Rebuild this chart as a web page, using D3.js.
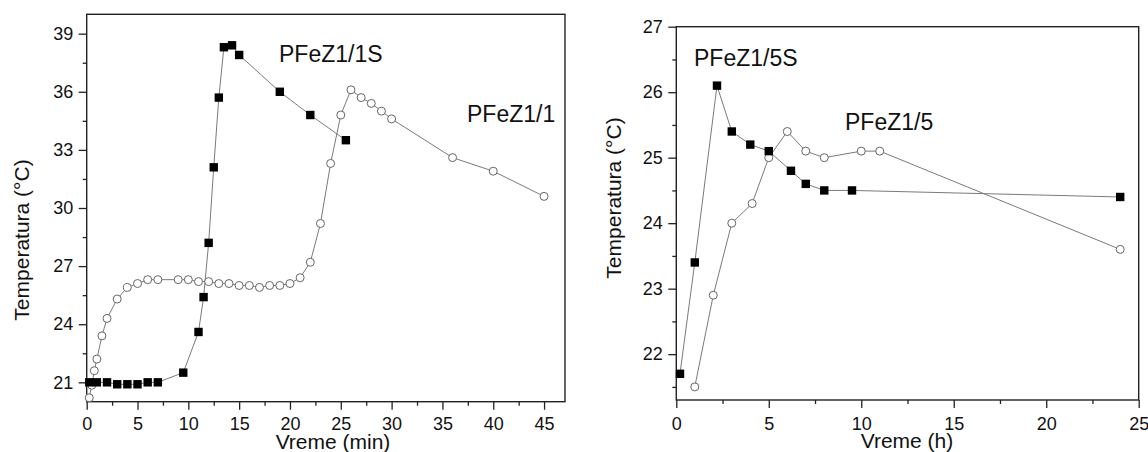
<!DOCTYPE html>
<html><head><meta charset="utf-8">
<script src="https://cdn.jsdelivr.net/npm/d3@7"></script>
<style>
body{margin:0;background:#fff;}
svg{display:block;font-family:"Liberation Sans",Arial,sans-serif;}
</style></head>
<body><svg id="c" width="1148" height="452"></svg>
<script>
// Left panel (minutes)
const leftSquareTime = [0.25,1,2,3,4,5,6,7,9.5,11,11.5,12,12.5,13,13.5,14.3,15,19,22,25.5];
const leftSquareTemp = [21.0,21.0,21.0,20.9,20.9,20.9,21.0,21.0,21.5,23.6,25.4,28.2,32.1,35.7,38.3,38.4,37.9,36.0,34.8,33.5];
const leftCircleTime = [0.25,0.5,0.75,1,1.5,2,3,4,5,6,7,9,10,11,12,13,14,15,16,17,18,19,20,21,22,23,24,25,26,27,28,29,30,36,40,45];
const leftCircleTemp = [20.2,20.85,21.6,22.2,23.4,24.3,25.3,25.9,26.1,26.3,26.3,26.3,26.3,26.2,26.2,26.1,26.1,26.0,26.0,25.9,26.0,26.0,26.1,26.4,27.2,29.2,32.3,34.8,36.1,35.7,35.4,35.0,34.6,32.6,31.9,30.6];
const leftXTicks = [0,5,10,15,20,25,30,35,40,45];
const leftYTicks = [21,24,27,30,33,36,39];

// Right panel (hours)
const rightSquareTime = [0.2,1,2.2,3,4,5,6.2,7,8,9.5,24];
const rightSquareTemp = [21.7,23.4,26.1,25.4,25.2,25.1,24.8,24.6,24.5,24.5,24.4];
const rightCircleTime = [1,2,3,4.1,5,6,7,8,10,11,24];
const rightCircleTemp = [21.5,22.9,24.0,24.3,25.0,25.4,25.1,25.0,25.1,25.1,23.6];
const rightXTicks = [0,5,10,15,20,25];
const rightYTicks = [22,23,24,25,26,27];

const svg = d3.select("#c");
const lineColor = "#7a7a7a";

function panel(opt){
  const x = d3.scaleLinear().domain(opt.xDom).range([opt.x0, opt.x1]);
  const y = d3.scaleLinear().domain(opt.yDom).range([opt.y1, opt.y0]);
  const g = svg.append("g");
  g.append("rect").attr("x",opt.x0).attr("y",opt.y0).attr("width",opt.x1-opt.x0).attr("height",opt.y1-opt.y0)
    .attr("fill","none").attr("stroke","#222").attr("stroke-width",1.4);
  const xa = g.append("g").attr("transform",`translate(0,${opt.y1})`)
    .call(d3.axisBottom(x).tickValues(opt.xTicks).tickSize(8).tickPadding(6).tickFormat(d3.format("d")));
  const xm = g.append("g").attr("transform",`translate(0,${opt.y1})`)
    .call(d3.axisBottom(x).tickValues(opt.xMinor).tickSize(4).tickFormat(""));
  const ya = g.append("g").attr("transform",`translate(${opt.x0},0)`)
    .call(d3.axisLeft(y).tickValues(opt.yTicks).tickSize(8).tickPadding(5.5).tickFormat(d3.format("d")));
  const ym = g.append("g").attr("transform",`translate(${opt.x0},0)`)
    .call(d3.axisLeft(y).tickValues(opt.yMinor).tickSize(4).tickFormat(""));
  [xa,xm,ya,ym].forEach(a=>{
    a.select(".domain").remove();
    a.selectAll(".tick line").attr("stroke","#222").attr("stroke-width",1.3);
    a.selectAll("text").attr("font-size",18).attr("fill","#111").attr("font-family","Liberation Sans, Arial, sans-serif");
  });
  xa.selectAll("text").attr("dy",null).attr("y",opt.xLabelBase-opt.y1);
  g.append("text").attr("x",opt.xTitleX).attr("y",opt.xTitleY).attr("text-anchor","middle")
    .attr("font-size",21).attr("fill","#111").text(opt.xTitle);
  g.append("text").attr("transform",`translate(${opt.yTitleX},${opt.yTitleY}) rotate(-90)`).attr("text-anchor","middle")
    .attr("font-size",21).attr("fill","#111").text("Temperatura (°C)");

  const line = d3.line().x(d=>x(d[0])).y(d=>y(d[1]));
  const sq = d3.zip(opt.sqT, opt.sqV);
  const ci = d3.zip(opt.ciT, opt.ciV);
  g.append("path").datum(ci).attr("d",line).attr("fill","none").attr("stroke",lineColor).attr("stroke-width",1);
  g.append("path").datum(sq).attr("d",line).attr("fill","none").attr("stroke",lineColor).attr("stroke-width",1);
  g.selectAll(".ci").data(ci).join("circle").attr("cx",d=>x(d[0])).attr("cy",d=>y(d[1])).attr("r",4)
    .attr("fill","#fff").attr("stroke","#666").attr("stroke-width",1);
  g.selectAll(".sq").data(sq).join("rect").attr("x",d=>x(d[0])-4.2).attr("y",d=>y(d[1])-4.2)
    .attr("width",8.4).attr("height",8.4).attr("fill","#000");
  opt.labels.forEach(l=>{
    g.append("text").attr("x",l.x).attr("y",l.y).attr("font-size",23).attr("fill","#111").text(l.t);
  });
}

panel({
  x0:86.7,x1:565,y0:14.3,y1:401.7,xDom:[0,47.06],yDom:[20,40],
  xTicks:leftXTicks, xMinor:[2.5,7.5,12.5,17.5,22.5,27.5,32.5,37.5,42.5],
  yTicks:leftYTicks, yMinor:[22.5,25.5,28.5,31.5,34.5,37.5],
  xLabelBase:430.5, xTitle:"Vreme (min)", xTitleX:333, xTitleY:449,
  yTitleX:29, yTitleY:240,
  sqT:leftSquareTime, sqV:leftSquareTemp, ciT:leftCircleTime, ciV:leftCircleTemp,
  labels:[{t:"PFeZ1/1S",x:279,y:62},{t:"PFeZ1/1",x:467,y:122}]
});
panel({
  x0:676.3,x1:1138.7,y0:26.7,y1:400,xDom:[0,25],yDom:[21.3,27],
  xTicks:rightXTicks, xMinor:[2.5,7.5,12.5,17.5,22.5],
  yTicks:rightYTicks, yMinor:[21.5,22.5,23.5,24.5,25.5,26.5],
  xLabelBase:429.5, xTitle:"Vreme (h)", xTitleX:907, xTitleY:448,
  yTitleX:621, yTitleY:198,
  sqT:rightSquareTime, sqV:rightSquareTemp, ciT:rightCircleTime, ciV:rightCircleTemp,
  labels:[{t:"PFeZ1/5S",x:694,y:66},{t:"PFeZ1/5",x:845,y:130}]
});
</script></body></html>
